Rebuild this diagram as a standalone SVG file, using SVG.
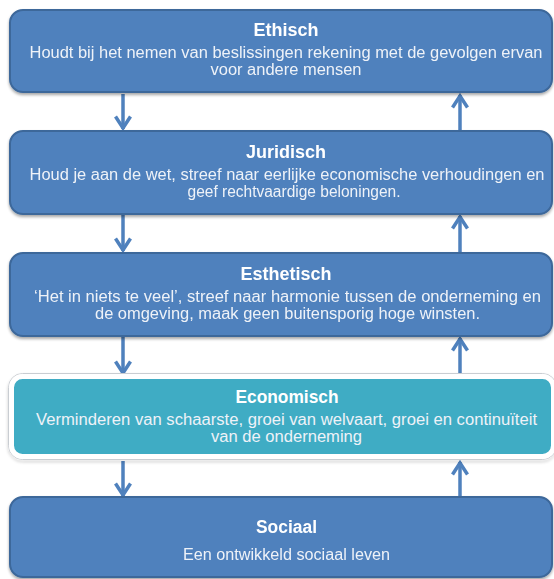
<svg xmlns="http://www.w3.org/2000/svg" width="554" height="579" viewBox="0 0 554 579">
  <defs>
    <filter id="sh" x="-5%" y="-10%" width="110%" height="130%">
      <feGaussianBlur in="SourceAlpha" stdDeviation="1.5"/>
      <feOffset dx="0" dy="2" result="b"/>
      <feComponentTransfer><feFuncA type="linear" slope="0.35"/></feComponentTransfer>
      <feMerge><feMergeNode/><feMergeNode in="SourceGraphic"/></feMerge>
    </filter>
    <marker id="chev" viewBox="0 0 20 20" refX="14" refY="10" markerWidth="20" markerHeight="20" markerUnits="userSpaceOnUse" orient="auto">
      <polyline points="1.5,2.5 13,10 1.5,17.5" fill="none" stroke="#4F81BD" stroke-width="3.5" stroke-linejoin="miter"/>
    </marker>
  </defs>
  <style>
    .box { fill: #4F81BD; stroke: #3C679A; stroke-width: 2; }
    .eco { fill: #3FACC4; stroke: #FFFFFF; stroke-width: 5; }
    .ecoOut { fill: none; stroke: #C9CDD2; stroke-width: 1; }
    .title { font-family: "Liberation Sans", Arial, sans-serif; font-weight: bold; font-size: 18px; fill: #FFFFFF; text-anchor: middle; }
    .body { font-family: "Liberation Sans", Arial, sans-serif; font-size: 16px; fill: #EEF2F8; text-anchor: middle; }
    .conn { stroke: #4F81BD; stroke-width: 3.5; fill: none; marker-end: url(#chev); }
  </style>

  <g id="connectors">
    <line class="conn" x1="123" y1="94" x2="123" y2="129"/>
    <line class="conn" x1="460" y1="130" x2="460" y2="95"/>
    <line class="conn" x1="123" y1="215" x2="123" y2="251"/>
    <line class="conn" x1="460" y1="252" x2="460" y2="216"/>
    <line class="conn" x1="123" y1="337" x2="123" y2="374"/>
    <line class="conn" x1="460" y1="373" x2="460" y2="338"/>
    <line class="conn" x1="123" y1="461" x2="123" y2="496"/>
    <line class="conn" x1="460" y1="497" x2="460" y2="462"/>
  </g>

  <g id="ethisch" filter="url(#sh)">
    <rect class="box" x="10" y="10" width="542" height="82" rx="13"/>
    <text class="title" x="286" y="36" textLength="65" lengthAdjust="spacingAndGlyphs">Ethisch</text>
    <text class="body" x="286" y="58" textLength="513" lengthAdjust="spacingAndGlyphs">Houdt bij het nemen van beslissingen rekening met de gevolgen ervan</text>
    <text class="body" x="286" y="75" textLength="151" lengthAdjust="spacingAndGlyphs">voor andere mensen</text>
  </g>

  <g id="juridisch" filter="url(#sh)">
    <rect class="box" x="10" y="131" width="542" height="83" rx="13"/>
    <text class="title" x="286" y="158" textLength="80" lengthAdjust="spacingAndGlyphs">Juridisch</text>
    <text class="body" x="287" y="180" textLength="515" lengthAdjust="spacingAndGlyphs">Houd je aan de wet, streef naar eerlijke economische verhoudingen en</text>
    <text class="body" x="294" y="197" textLength="213" lengthAdjust="spacingAndGlyphs">geef rechtvaardige beloningen.</text>
  </g>

  <g id="esthetisch" filter="url(#sh)">
    <rect class="box" x="10" y="253" width="542" height="83" rx="13"/>
    <text class="title" x="286" y="280" textLength="91" lengthAdjust="spacingAndGlyphs">Esthetisch</text>
    <text class="body" x="287.5" y="302" textLength="507" lengthAdjust="spacingAndGlyphs">‘Het in niets te veel’, streef naar harmonie tussen de onderneming en</text>
    <text class="body" x="287.5" y="319" textLength="385" lengthAdjust="spacingAndGlyphs">de omgeving, maak geen buitensporig hoge winsten.</text>
  </g>

  <g id="economisch">
    <rect class="ecoOut" x="8.5" y="373.5" width="548" height="86" rx="14" filter="url(#sh)"/>
    <rect class="eco" x="11.5" y="376.5" width="542" height="80" rx="11"/>
    <text class="title" x="287" y="403" textLength="103" lengthAdjust="spacingAndGlyphs">Economisch</text>
    <text class="body" x="286.5" y="425" textLength="501" lengthAdjust="spacingAndGlyphs">Verminderen van schaarste, groei van welvaart, groei en continuïteit</text>
    <text class="body" x="286.5" y="442" textLength="151" lengthAdjust="spacingAndGlyphs">van de onderneming</text>
  </g>

  <g id="sociaal" filter="url(#sh)">
    <rect class="box" x="10" y="497" width="542" height="80" rx="13"/>
    <text class="title" x="286.5" y="533" textLength="61" lengthAdjust="spacingAndGlyphs">Sociaal</text>
    <text class="body" x="286.5" y="560" textLength="207" lengthAdjust="spacingAndGlyphs">Een ontwikkeld sociaal leven</text>
  </g>
</svg>
